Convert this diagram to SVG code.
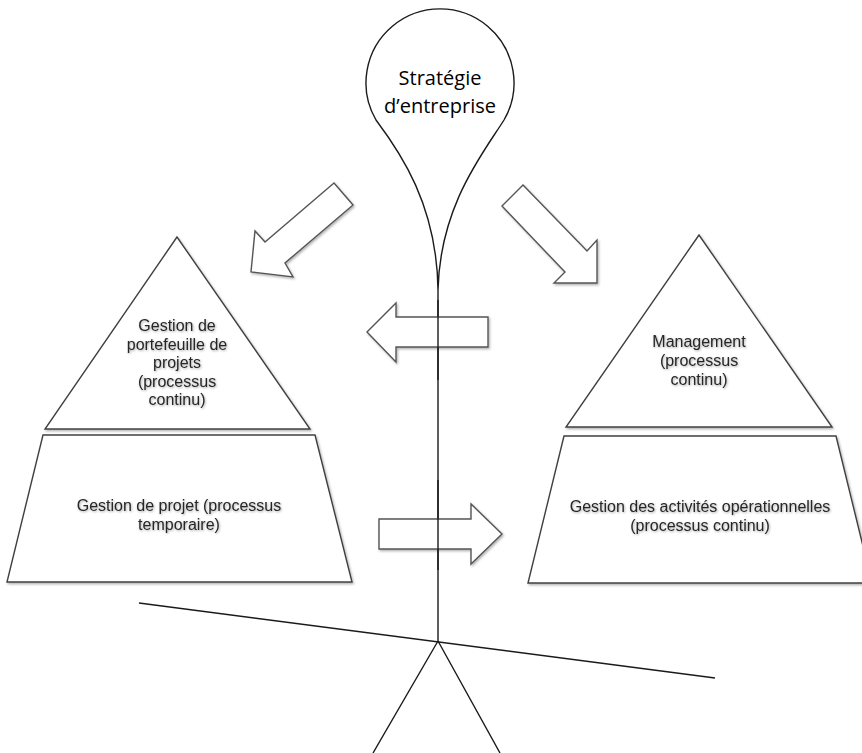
<svg xmlns="http://www.w3.org/2000/svg" width="862" height="753" viewBox="0 0 862 753">
<defs>
<filter id="sh" x="-10%" y="-10%" width="130%" height="130%">
<feDropShadow dx="1.2" dy="1.5" stdDeviation="1.2" flood-color="#000" flood-opacity="0.3"/>
</filter>
<filter id="tsh" x="-10%" y="-30%" width="120%" height="170%">
<feDropShadow dx="0.8" dy="1" stdDeviation="1" flood-color="#000" flood-opacity="0.35"/>
</filter>
</defs>
<style>
.shape{fill:#fff;stroke:#404040;stroke-width:1.4;stroke-linejoin:miter;filter:url(#sh)}
.arrow{fill:#fff;stroke:#555;stroke-width:1.4;stroke-linejoin:miter;filter:url(#sh)}
.line{fill:none;stroke:#1a1a1a;stroke-width:1.4}
.lbl{font-family:"Liberation Sans",Arial,sans-serif;font-size:16px;fill:#262626;text-anchor:middle;filter:url(#tsh)}
.title{font-family:"Open Sans","Liberation Sans",sans-serif;font-size:20px;fill:#000;text-anchor:middle}
</style>
<rect width="862" height="753" fill="#fff"/>

<g id="balance">
<path class="line" d="M438 641 L438 290"/>
<path class="line" d="M139 603 L715 678"/>
<path class="line" d="M438 641 L373 753 M438 641 L500 753" stroke="#333"/>
</g>

<g id="strategie">
<path class="line" d="M438 290 C437 205 400 152 376 120 A74 74 0 1 1 504 120 C484 152 440 205 438 290"/>
<text class="title" x="440" y="85">Stratégie</text>
<text class="title" x="440" y="113">d’entreprise</text>
</g>

<g id="portefeuille">
<polygon class="shape" points="177,237 45,429 310,429"/>
<text class="lbl"><tspan x="177" y="331">Gestion de</tspan><tspan x="177" y="349.5">portefeuille de</tspan><tspan x="177" y="368">projets</tspan><tspan x="177" y="386.5">(processus</tspan><tspan x="177" y="405">continu)</tspan></text>
</g>

<g id="projet">
<polygon class="shape" points="43,435 315,435 352,582 7,582"/>
<text class="lbl"><tspan x="179" y="511">Gestion de projet (processus</tspan><tspan x="179" y="530">temporaire)</tspan></text>
</g>

<g id="management">
<polygon class="shape" points="699,235 566,427 832,427"/>
<text class="lbl"><tspan x="699" y="347">Management</tspan><tspan x="699" y="366">(processus</tspan><tspan x="699" y="385">continu)</tspan></text>
</g>

<g id="operations">
<polygon class="shape" points="564,436 836,436 872,583 528,583"/>
<text class="lbl"><tspan x="700" y="512">Gestion des activités opérationnelles</tspan><tspan x="700" y="531">(processus continu)</tspan></text>
</g>

<g id="connectors">
<polygon class="arrow" points="334,183 265,242 255,231 251,272 293,277 285,263 353,205"/>
<polygon class="arrow" points="523,185 587,251 597,240 597,283 554,283 565,272 502,206"/>
<polygon class="arrow" points="367,332 396,303 396,317 488,317 488,347 396,347 396,362"/>
<polygon class="arrow" points="379,519 471,519 471,504 502,534 471,564 471,549 379,549"/>
<path class="line" d="M438 300 L438 380 M438 480 L438 570"/>
</g>
</svg>
